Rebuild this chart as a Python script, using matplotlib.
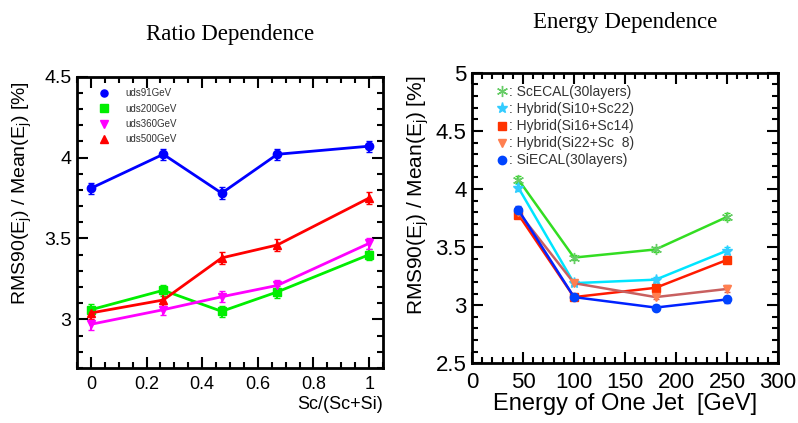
import matplotlib
matplotlib.use("Agg")
import matplotlib.pyplot as plt
from matplotlib.ticker import MultipleLocator

# ---- left panel: ratio dependence ----
ratio = [0.0, 0.26, 0.47, 0.67, 1.0]
uds91 = [3.81, 4.02, 3.78, 4.02, 4.07]
uds200 = [3.06, 3.18, 3.05, 3.17, 3.40]
uds360 = [2.97, 3.06, 3.14, 3.21, 3.47]
uds500 = [3.04, 3.12, 3.38, 3.46, 3.75]
err_l = [0.035, 0.035, 0.035, 0.035, 0.035]

# ---- right panel: energy dependence ----
energy = [45.5, 100, 180, 250]
scecal = [4.08, 3.41, 3.48, 3.76]
hyb_10_22 = [4.01, 3.19, 3.22, 3.47]
hyb_16_14 = [3.78, 3.07, 3.15, 3.39]
hyb_22_8 = [3.80, 3.19, 3.07, 3.14]
siecal = [3.82, 3.07, 2.98, 3.05]
err_r = [0.03, 0.02, 0.02, 0.03]

plt.rcParams["font.family"] = "Liberation Sans"
fig = plt.figure(figsize=(7.98, 4.23), dpi=100)
axL = fig.add_axes([0.0965, 0.130, 0.3835, 0.689])
axR = fig.add_axes([0.5915, 0.141, 0.3835, 0.687])


def style(ax, xmaj, xmin, fs_y, fs_x):
    for s in ax.spines.values():
        s.set_linewidth(2)
    ax.xaxis.set_major_locator(MultipleLocator(xmaj))
    ax.xaxis.set_minor_locator(MultipleLocator(xmin))
    ax.yaxis.set_minor_locator(MultipleLocator(0.1))
    ax.tick_params(which="both", direction="in", top=True, right=True, width=1.5)
    ax.tick_params(which="major", length=8)
    ax.tick_params(which="minor", length=4)
    ax.tick_params(axis="y", labelsize=fs_y, pad=4)
    ax.tick_params(axis="x", labelsize=fs_x, pad=6)


ylab = "RMS90(E$_\\mathregular{j}$) / Mean(E$_\\mathregular{j}$) [%]"

# left
for y, c, m, lab in [(uds91, "#0000ff", "o", "uds91GeV"),
                     (uds200, "#00ee00", "s", "uds200GeV"),
                     (uds360, "#ff00ff", "v", "uds360GeV"),
                     (uds500, "#ff0000", "^", "uds500GeV")]:
    axL.errorbar(ratio, y, yerr=err_l, color=c, marker=m, ms=6, lw=2,
                 capsize=2, elinewidth=1.5, label=lab)
axL.set_xlim(-0.05, 1.05)
axL.set_ylim(2.7, 4.5)
style(axL, 0.2, 0.05, 14, 13)
axL.set_xticks([0, 0.2, 0.4, 0.6, 0.8, 1.0])
axL.set_xticklabels(["0", "0.2", "0.4", "0.6", "0.8", "1"])
axL.set_yticks([3, 3.5, 4, 4.5])
axL.set_yticklabels(["3", "3.5", "4", "4.5"])
axL.set_xlabel("Sc/(Sc+Si)", fontsize=13, loc="right", labelpad=2)
axL.set_ylabel(ylab, fontsize=14, va="center")
axL.yaxis.set_label_coords(-0.18, 0.60)
hL, lL = axL.get_legend_handles_labels()
hL = [h[0] for h in hL]
legL = axL.legend(hL, lL, loc="upper left", frameon=False, fontsize=7,
                  handlelength=1.2, handletextpad=1.6, labelspacing=0.55,
                  markerscale=0.85, bbox_to_anchor=(0.04, 0.99))
for h in legL.legend_handles:
    h.set_linestyle("none")
for t in legL.get_texts():
    t.set_color("#333333")
axL.set_title("Ratio Dependence", fontsize=16.5, family="Liberation Serif", pad=26)

# right
for y, c, mc, m, ms, lab in [
        (scecal, "#33dd22", "#66cc66", (6, 2, 0), 8, ": ScECAL(30layers)"),
        (hyb_10_22, "#00e5ff", "#33ccff", "*", 8, ": Hybrid(Si10+Sc22)"),
        (hyb_16_14, "#ff1a00", "#ff3300", "s", 6, ": Hybrid(Si16+Sc14)"),
        (hyb_22_8, "#c86060", "#ff7f50", "v", 6, ": Hybrid(Si22+Sc  8)"),
        (siecal, "#0022ff", "#0044ff", "o", 6, ": SiECAL(30layers)")]:
    axR.errorbar(energy, y, yerr=err_r, color=c, marker=m, ms=ms, mfc=mc, mec=mc,
                 lw=1.8, capsize=2, elinewidth=1.5, label=lab)
axR.set_xlim(0, 300)
axR.set_ylim(2.5, 5.0)
style(axR, 50, 10, 16, 16)
axR.set_yticks([2.5, 3, 3.5, 4, 4.5, 5])
axR.set_yticklabels(["2.5", "3", "3.5", "4", "4.5", "5"])
axR.set_xlabel("Energy of One Jet  [GeV]", fontsize=17, labelpad=0)
axR.set_ylabel(ylab, fontsize=15, va="center")
axR.yaxis.set_label_coords(-0.176, 0.58)
hR, lR = axR.get_legend_handles_labels()
hR = [h[0] for h in hR]
legR = axR.legend(hR, lR, loc="upper left", frameon=False, fontsize=10,
                  handlelength=0.8, handletextpad=0.1, labelspacing=0.22,
                  bbox_to_anchor=(0.04, 1.0))
for h in legR.legend_handles:
    h.set_linestyle("none")
for t in legR.get_texts():
    t.set_color("#333333")
axR.set_title("Energy Dependence", fontsize=16.5, family="Liberation Serif", pad=32)

fig.savefig("out.png", dpi=100)
